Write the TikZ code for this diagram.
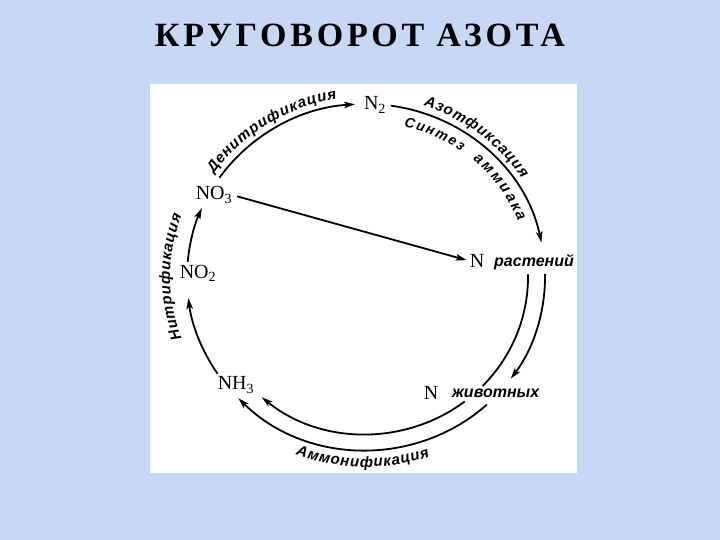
\documentclass[tikz,border=0pt]{standalone}
\usepackage{fontspec}
\setmainfont{Liberation Serif}
\newfontfamily\titlefont[LetterSpace=11]{Liberation Serif}
\newfontfamily\labfont{Liberation Sans}
\usetikzlibrary{arrows.meta,decorations.text}
\definecolor{bgblue}{RGB}{199,215,246}
\newcommand\curvefont{\labfont\bfseries\itshape\fontsize{15}{15}\selectfont}
\newcommand\innerfont{\labfont\bfseries\itshape\fontsize{14}{14}\selectfont}
\tikzset{
  flow/.style={line width=1.8pt, -{Stealth[length=11pt,width=6.5pt,inset=2.5pt]}},
  plainline/.style={line width=1.8pt},
  chem/.style={font=\fontsize{20}{20}\selectfont, inner sep=0pt},
  lab/.style={font=\labfont\bfseries\itshape\fontsize{16}{16}\selectfont, inner sep=0pt},
}
\begin{document}
\begin{tikzpicture}[x=1pt,y=1pt]
\useasboundingbox (0,0) rectangle (720,-540);
\fill[bgblue] (0,0) rectangle (720,-540);
\fill[white] (150,-84) rectangle (577,-473);
\node[font=\titlefont\bfseries\fontsize{34}{34}\selectfont, anchor=base, inner sep=0pt] (title) at (360,-47) {КРУГОВОРОТ АЗОТА};

\coordinate (C) at (366,-277);

% labels
\node[chem] (n2) at (375,-105) {N\textsubscript{2}};
\node[chem] (no3) at (214,-195) {NO\textsubscript{3}};
\node[chem] (no2) at (198,-273) {NO\textsubscript{2}};
\node[chem] (nh3) at (236,-385) {NH\textsubscript{3}};
\node[chem] (nP) at (477,-261) {N};
\node[lab, anchor=west] (rast) at (494,-262) {растений};
\node[chem] (nA) at (431,-393) {N};
\node[lab, anchor=west] (zhiv) at (452,-393) {животных};

% main cycle arcs (ellipse 179 x 173)
\draw[flow] (C) ++(145:179pt and 173pt) arc[start angle=145, end angle=93.5, x radius=179pt, y radius=173pt];
\draw[flow] (C) ++(82:179pt and 173pt) arc[start angle=82, end angle=11.5, x radius=179pt, y radius=173pt];
\draw[flow] (C) ++(1:179pt and 173pt) arc[start angle=1, end angle=-36, x radius=179pt, y radius=173pt];
\draw[plainline] (C) ++(1:162pt and 157pt) arc[start angle=1, end angle=-44, x radius=162pt, y radius=157pt];
\draw[flow] (C) ++(-47.5:179pt and 173pt) arc[start angle=-47.5, end angle=-135.5, x radius=179pt, y radius=173pt];
\draw[flow] (C) ++(-52.5:162pt and 157pt) arc[start angle=-52.5, end angle=-130, x radius=162pt, y radius=157pt];
\draw[flow] (C) ++(214:179pt and 173pt) arc[start angle=214, end angle=187, x radius=179pt, y radius=173pt];
\draw[flow] (C) ++(175:179pt and 173pt) arc[start angle=175, end angle=156.5, x radius=179pt, y radius=173pt];

% straight arrow
\draw[flow, shorten <=5pt, shorten >=3pt] (no3.east) -- (nP.west);

% curved texts
\path[decorate, decoration={text along path, text align={fit to path}, text={|\curvefont|Денитрификация}}]
  (C) ++(145:186pt and 180pt) arc[start angle=145, end angle=99, x radius=186pt, y radius=180pt];
\path[decorate, decoration={text along path, text align={fit to path}, text={|\curvefont|Азотфиксация}}]
  (C) ++(72:186pt and 180pt) arc[start angle=72, end angle=33, x radius=186pt, y radius=180pt];
\path[decorate, decoration={text along path, text align={fit to path}, text={|\innerfont|Синтез}}]
  (C) ++(76.5:162pt and 155pt) arc[start angle=76.5, end angle=54, x radius=162pt, y radius=155pt];
\path[decorate, decoration={text along path, text align={fit to path}, text={|\curvefont|аммиака}}]
  (C) ++(49:163pt and 155pt) arc[start angle=49, end angle=21, x radius=163pt, y radius=155pt];
\path[decorate, decoration={text along path, text align={fit to path}, text={|\curvefont|Нитрификация}}]
  (C) ++(200:196pt and 180pt) arc[start angle=200, end angle=160, x radius=196pt, y radius=180pt];
\path[decorate, decoration={text along path, text align={fit to path}, text={|\curvefont|Аммонификация}}]
  (C) ++(249:196pt and 190pt) arc[start angle=249, end angle=289, x radius=196pt, y radius=190pt];
\end{tikzpicture}
\end{document}
